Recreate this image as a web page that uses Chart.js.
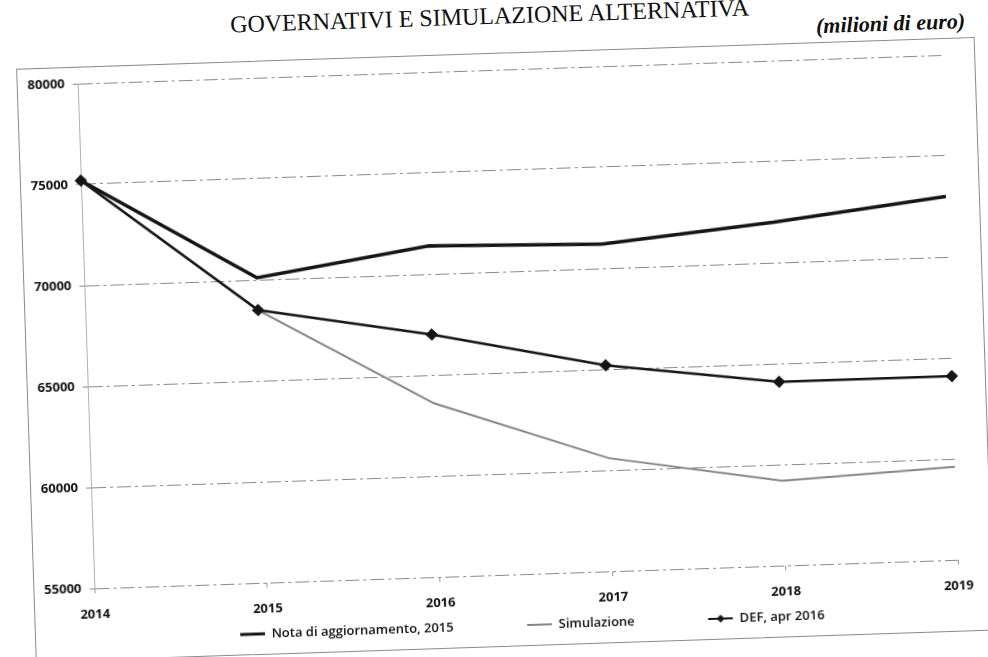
<!DOCTYPE html>
<html>
<head>
<meta charset="utf-8">
<script src="https://cdn.jsdelivr.net/npm/chart.js@4/dist/chart.umd.min.js"></script>
<style>
  html, body { margin: 0; padding: 0; background: #fff; }
  body { width: 988px; height: 657px; overflow: hidden; position: relative; }
  #sheet {
    position: absolute; left: 0; top: 0; width: 988px; height: 657px;
    transform: rotate(-1.9deg); transform-origin: 494px 328px;
  }
  #title {
    position: absolute; left: 0; top: 4px; width: 1000px; text-align: center;
    font: 24px/24px "Liberation Serif", serif; color: #111;
  }
  #unit {
    position: absolute; right: 13px; top: 26px;
    font: italic bold 22px/22px "Liberation Serif", serif; color: #111;
  }
  #frame {
    position: absolute; left: 25px; top: 53px; width: 959px; height: 594px;
    border: 1px solid #8a8a8a; box-sizing: border-box;
  }
  #chart { position: absolute; left: -1px; top: -1px; }
</style>
</head>
<body>
<div id="sheet">
  <div id="title">GOVERNATIVI E SIMULAZIONE ALTERNATIVA</div>
  <div id="unit">(milioni di euro)</div>
  <div id="frame"><canvas id="chart" width="959" height="594"></canvas></div>
</div>
<script>
const years = ['2014', '2015', '2016', '2017', '2018', '2019'];
const notaAggiornamento = [75200, 70100, 71400, 71200, 72000, 73000];
const simulazione = [75200, 68500, 63600, 60600, 59200, 59600];
const defApr2016 = [75200, 68500, 67000, 65200, 64100, 64100];
const yTicks = [55000, 60000, 65000, 70000, 75000, 80000];

const seriesNames = ['Nota di aggiornamento, 2015', 'Simulazione', 'DEF, apr 2016'];

// legend samples: a short line at the right end of a wide box,
// the blank part on the left keeps the items apart
function legendIcon(color, width, diamond) {
  const c = document.createElement('canvas');
  c.width = 90;
  c.height = 12;
  const g = c.getContext('2d');
  g.strokeStyle = color;
  g.lineWidth = width;
  g.beginPath();
  g.moveTo(65, 6);
  g.lineTo(90, 6);
  g.stroke();
  if (diamond) {
    g.fillStyle = color;
    g.beginPath();
    g.moveTo(77.5, 2);
    g.lineTo(81.5, 6);
    g.lineTo(77.5, 10);
    g.lineTo(73.5, 6);
    g.closePath();
    g.fill();
  }
  return c;
}
const icons = [
  legendIcon('#151515', 3, false),
  legendIcon('#858585', 2, false),
  legendIcon('#151515', 2, true)
];

const tickFont = { family: 'Open Sans', size: 13, weight: 'bold' };

new Chart(document.getElementById('chart').getContext('2d'), {
  type: 'line',
  data: {
    labels: years,
    datasets: [
      {
        label: seriesNames[0],
        data: notaAggiornamento,
        borderColor: '#151515',
        borderWidth: 3.5,
        pointRadius: 0,
        fill: false,
        order: 2
      },
      {
        label: seriesNames[1],
        data: simulazione,
        borderColor: '#858585',
        borderWidth: 2,
        pointRadius: 0,
        fill: false,
        order: 3
      },
      {
        label: seriesNames[2],
        data: defApr2016,
        borderColor: '#151515',
        backgroundColor: '#151515',
        borderWidth: 2.5,
        pointStyle: 'rectRot',
        pointRadius: 4.5,
        pointBackgroundColor: '#151515',
        pointBorderColor: '#151515',
        fill: false,
        order: 1
      }
    ]
  },
  options: {
    responsive: false,
    animation: false,
    devicePixelRatio: 1,
    layout: { padding: { top: 17, right: 34, left: 5, bottom: 4.5 } },
    plugins: {
      tooltip: { enabled: false },
      legend: {
        position: 'bottom',
        labels: {
          usePointStyle: true,
          pointStyleWidth: 90,
          padding: 8.5,
          color: '#111',
          font: { family: 'Open Sans', size: 13, weight: '600' },
          sort: (a, b) => a.datasetIndex - b.datasetIndex,
          generateLabels(chart) {
            const items = Chart.defaults.plugins.legend.labels.generateLabels(chart);
            items.forEach(it => { it.pointStyle = icons[it.datasetIndex]; });
            return items;
          }
        }
      }
    },
    scales: {
      x: {
        offset: false,
        grid: { display: true, drawOnChartArea: false, drawTicks: true, tickLength: 5, color: '#9a9a9a' },
        border: { display: false },
        ticks: { color: '#111', font: tickFont, padding: 13, maxRotation: 0, autoSkip: false },
        afterFit(scale) { scale.height = 36; }
      },
      y: {
        min: 55000,
        max: 80000,
        grid: { color: '#8a8a8a', lineWidth: 1, tickLength: 5 },
        border: { display: true, color: '#b0b0b0', dash: [14, 4, 3, 4] },
        ticks: {
          color: '#111',
          font: tickFont,
          padding: 8,
          callback: v => String(v)
        },
        afterBuildTicks(scale) { scale.ticks = yTicks.map(v => ({ value: v })); },
        afterFit(scale) { scale.width = 56; }
      }
    }
  }
});
</script>
</body>
</html>
